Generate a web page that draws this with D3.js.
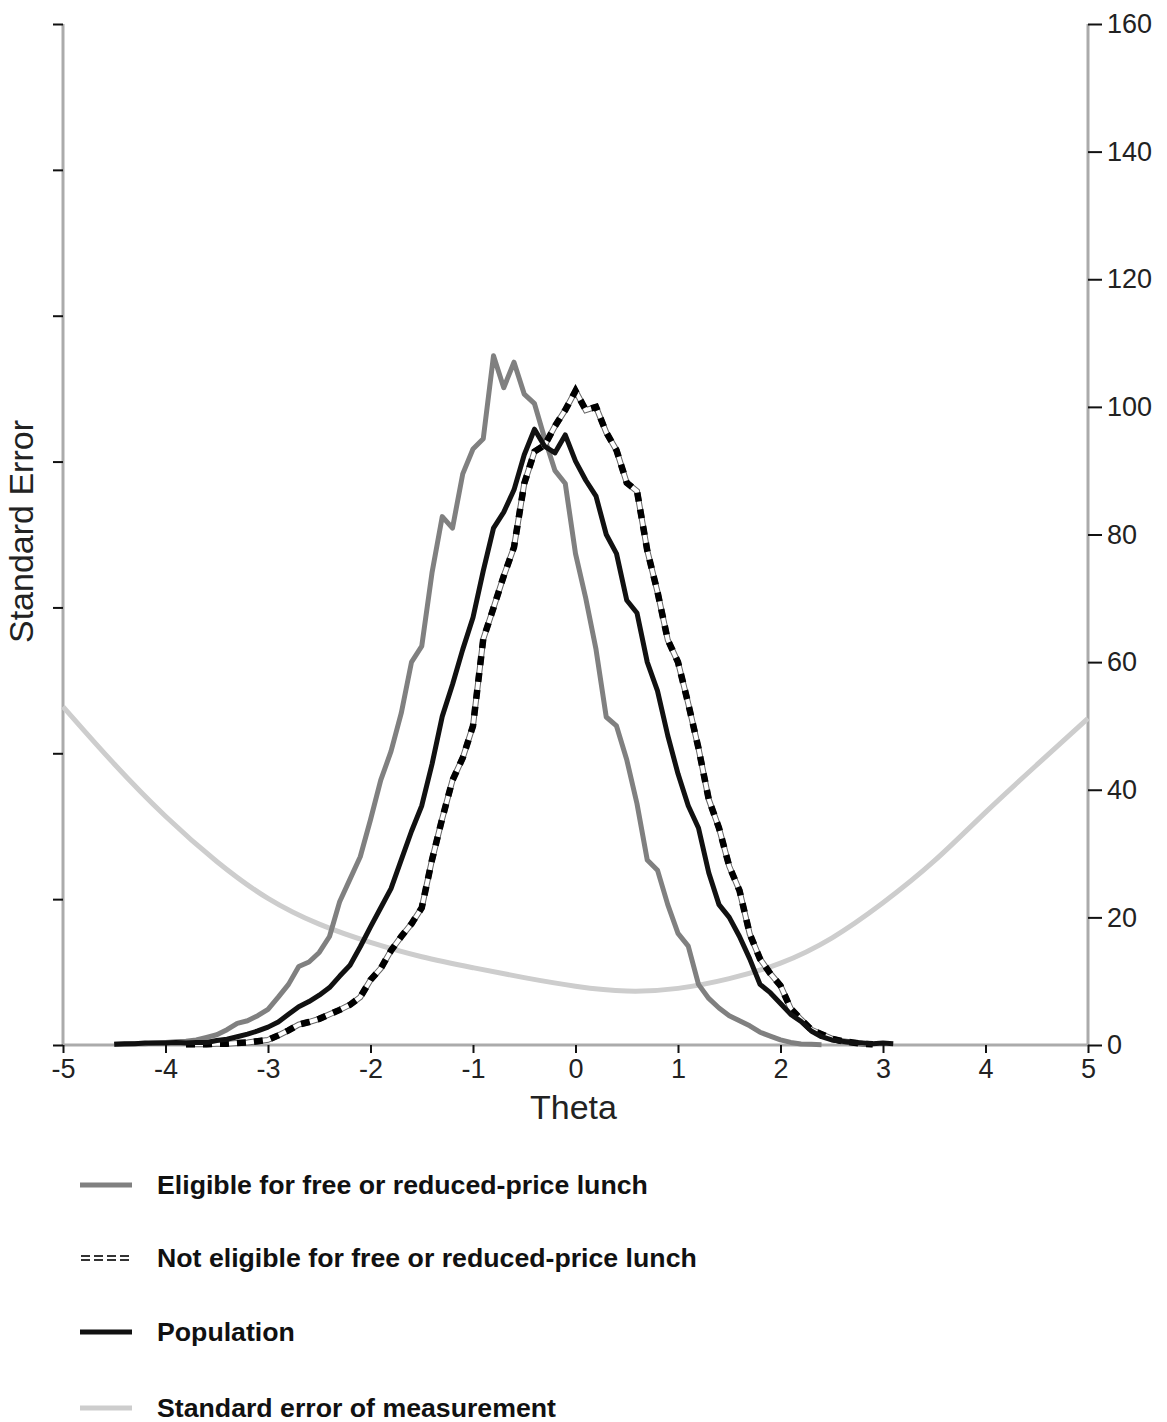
<!DOCTYPE html>
<html>
<head>
<meta charset="utf-8">
<script src="https://cdn.jsdelivr.net/npm/d3@7"></script>
<style>
  body { margin: 0; background: #fff; }
  svg { display: block; font-family: "Liberation Sans", Arial, sans-serif; }
</style>
</head>
<body>
<svg width="1167" height="1422"></svg>
<script>
// theta grid for the three distributions
const theta = [-4.5,-4.4,-4.3,-4.2,-4.1,-4.0,-3.9,-3.8,-3.7,-3.6,
  -3.5,-3.4,-3.3,-3.2,-3.1,-3.0,-2.9,-2.8,-2.7,-2.6,
  -2.5,-2.4,-2.3,-2.2,-2.1,-2.0,-1.9,-1.8,-1.7,-1.6,
  -1.5,-1.4,-1.3,-1.2,-1.1,-1.0,-0.9,-0.8,-0.7,-0.6,
  -0.5,-0.4,-0.3,-0.2,-0.1,0.0,0.1,0.2,0.3,0.4,
  0.5,0.6,0.7,0.8,0.9,1.0,1.1,1.2,1.3,1.4,
  1.5,1.6,1.7,1.8,1.9,2.0,2.1,2.2,2.3,2.4,
  2.5,2.6,2.7,2.8,2.9,3.0,3.1];

const eligible = [0.1,0.1,0.2,0.2,0.3,0.4,0.5,0.6,0.8,1.2,
  1.6,2.4,3.4,3.8,4.6,5.6,7.5,9.5,12.3,13.0,
  14.5,17.0,22.5,26.0,29.5,35.3,41.5,46.0,52.0,60.0,
  62.5,74.0,82.8,81.0,89.5,93.4,95.0,108,103,107,
  102,100.5,95,90,88,77,70,62,51.4,50,
  44.7,37.8,29,27.4,22,17.5,15.5,9.5,7.3,5.8,
  4.6,3.8,3.0,2.0,1.4,0.8,0.4,0.15,0.1,0.05,
  null,null,null,null,null,null,null];

const notEligible = [null,null,null,null,null,null,null,0.1,0.1,0.1,
  0.2,0.2,0.3,0.4,0.6,0.8,1.5,2.3,3.2,3.6,
  4.1,4.8,5.5,6.3,7.5,10.2,12.0,14.8,17.0,19.0,
  21.5,29.0,35.5,41.5,45.0,50.0,63.6,68.5,73.5,78.0,
  88.0,93.0,94.0,97.0,99.5,102.5,99.5,100.0,96.0,93.2,
  88.1,86.8,77.5,71.0,63.5,60.0,53.5,46.5,38.5,34.0,
  28.0,24.2,17.4,13.5,11.2,9.3,5.7,4.0,2.4,1.7,
  1.0,0.6,0.4,0.2,0.1,null,null];

const population = [0.1,0.2,0.2,0.3,0.3,0.3,0.4,0.3,0.4,0.4,
  0.7,0.9,1.3,1.7,2.2,2.8,3.6,4.8,6.0,6.8,
  7.8,9.0,10.8,12.5,15.4,18.5,21.5,24.5,29.0,33.5,
  37.5,44.0,51.5,56.5,62.0,67.0,74.3,81.0,83.5,87.0,
  92.5,96.5,93.8,92.8,95.6,91.5,88.5,86.0,80.0,77.0,
  69.7,67.7,60.0,55.5,48.5,42.5,37.5,34.0,27.0,22.0,
  20.0,17.0,13.5,9.5,8.2,6.5,4.8,3.7,2.2,1.3,
  0.8,0.6,0.4,0.3,0.2,0.3,0.2];

// standard error of measurement (left axis, unlabeled)
const semTheta = [-5,-4.5,-4,-3.5,-3,-2.5,-2,-1.5,-1,-0.5,0,0.5,1,1.5,2,2.5,3,3.5,4,4.5,5];
const semValue = [0.232,0.192,0.156,0.125,0.099,0.082,0.070,0.060,0.053,0.046,0.040,0.036,0.038,0.045,0.055,0.072,0.097,0.125,0.160,0.192,0.224];

const xTicks = [-5,-4,-3,-2,-1,0,1,2,3,4,5];
const rightTicks = [0,20,40,60,80,100,120,140,160];
const leftTicks = [0,0.1,0.2,0.3,0.4,0.5,0.6,0.7];

const legendLabels = [
  "Eligible for free or reduced-price lunch",
  "Not eligible for free or reduced-price lunch",
  "Population",
  "Standard error of measurement"
];

const margin = { top: 24, left: 63, right: 79 },
    width = 1167 - margin.left - margin.right,
    height = 1045 - margin.top;

const svg = d3.select("svg");
const g = svg.append("g")
    .attr("transform", "translate(" + margin.left + "," + margin.top + ")");

const x = d3.scaleLinear().domain([-5, 5]).range([0, width]);
const yR = d3.scaleLinear().domain([0, 160]).range([height, 0]);
const yL = d3.scaleLinear().domain([0, 0.7]).range([height, 0]);

const axisGray = "#ababab";

// axes
const xAxis = g.append("g")
    .attr("transform", "translate(0," + height + ")")
    .call(d3.axisBottom(x).tickValues(xTicks).tickSize(8).tickPadding(6)
        .tickFormat(d => String(d)));
const lAxis = g.append("g")
    .call(d3.axisLeft(yL).tickValues(leftTicks).tickSize(10).tickFormat(""));
const rAxis = g.append("g")
    .attr("transform", "translate(" + width + ",0)")
    .call(d3.axisRight(yR).tickValues(rightTicks).tickSize(14).tickPadding(5));

[xAxis, lAxis, rAxis].forEach(a => {
    a.select(".domain").attr("stroke", axisGray).attr("stroke-width", 3);
    a.selectAll(".tick line").attr("stroke", "#111").attr("stroke-width", 2);
    a.selectAll(".tick text").attr("fill", "#222").style("font-size", "27px")
        .style("font-family", "'Liberation Sans', Arial, sans-serif");
});
xAxis.select(".domain").attr("d", "M0,0H" + width);
lAxis.select(".domain").attr("d", "M0,0V" + height);
rAxis.select(".domain").attr("d", "M0,0V" + height);

// axis titles
g.append("text")
    .attr("x", x(-0.02)).attr("y", height + 74)
    .attr("text-anchor", "middle")
    .style("font-size", "34px").attr("fill", "#222")
    .text("Theta");
g.append("text")
    .attr("transform", "translate(-30," + (height / 2 - 3) + ")rotate(-90)")
    .attr("text-anchor", "middle")
    .style("font-size", "34px").attr("fill", "#222")
    .text("Standard Error");

// series
const rows = theta.map((t, i) => ({ t: t, e: eligible[i], n: notEligible[i], p: population[i] }));
const lineFor = key => d3.line()
    .defined(d => d[key] !== null)
    .x(d => x(d.t))
    .y(d => yR(d[key]));

const semLine = d3.line()
    .curve(d3.curveBasis)
    .x((d, i) => x(semTheta[i]))
    .y(d => yL(d));

g.append("path").datum(semValue)
    .attr("d", semLine)
    .attr("fill", "none").attr("stroke", "#cdcdcd").attr("stroke-width", 5);

g.append("path").datum(rows)
    .attr("d", lineFor("e"))
    .attr("fill", "none").attr("stroke", "#808080").attr("stroke-width", 5)
    .attr("stroke-linejoin", "round");

// dashed series: outlined white line with black dashes
const nPath = lineFor("n")(rows);
g.append("path").attr("d", nPath)
    .attr("fill", "none").attr("stroke", "#666").attr("stroke-width", 6);
g.append("path").attr("d", nPath)
    .attr("fill", "none").attr("stroke", "#fff").attr("stroke-width", 4);
g.append("path").attr("d", nPath)
    .attr("fill", "none").attr("stroke", "#000").attr("stroke-width", 6.5)
    .attr("stroke-dasharray", "9,8");

g.append("path").datum(rows)
    .attr("d", lineFor("p"))
    .attr("fill", "none").attr("stroke", "#111").attr("stroke-width", 5)
    .attr("stroke-linejoin", "round");

// legend
const legendY = [1185, 1258, 1332, 1408];
const lg = svg.append("g");
legendLabels.forEach((label, i) => {
    const yy = legendY[i];
    const seg = "M80," + yy + "H132";
    if (i === 1) {
        lg.append("path").attr("d", seg).attr("stroke", "#333").attr("stroke-width", 6);
        lg.append("path").attr("d", seg).attr("stroke", "#fff").attr("stroke-width", 2);
        lg.append("path").attr("d", seg).attr("stroke", "#fff").attr("stroke-width", 6)
            .attr("stroke-dasharray", "4,9").attr("stroke-dashoffset", -10);
    } else {
        const col = i === 0 ? "#808080" : i === 2 ? "#111" : "#cdcdcd";
        lg.append("path").attr("d", seg).attr("stroke", col).attr("stroke-width", 5);
    }
    lg.append("text")
        .attr("x", 157).attr("y", yy + 9)
        .style("font-size", "26.7px").style("font-weight", "bold").attr("fill", "#111")
        .text(label);
});
</script>
</body>
</html>
